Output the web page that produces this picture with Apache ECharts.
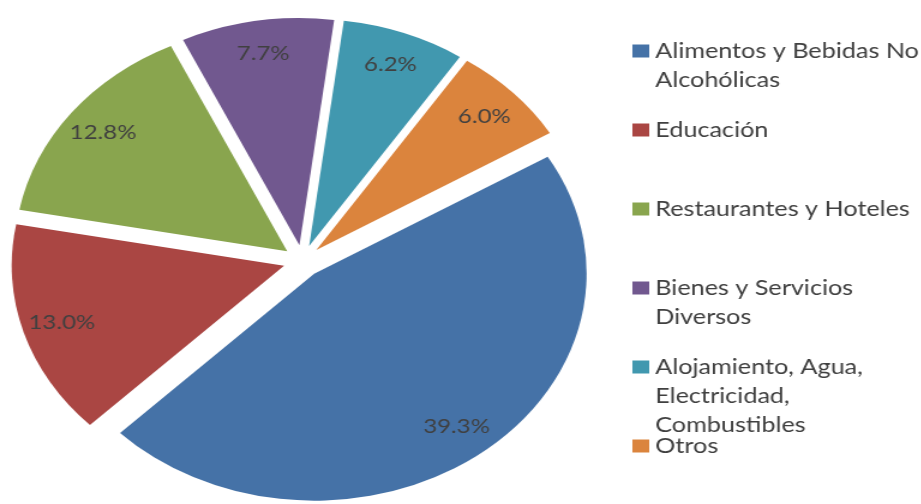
<!DOCTYPE html>
<html>
<head>
<meta charset="utf-8">
<script src="https://cdn.jsdelivr.net/npm/echarts@6/dist/echarts.min.js"></script>
<style>
  html, body { margin: 0; padding: 0; background: #ffffff; overflow: hidden; }
  #wrap { width: 921px; height: 504px; overflow: hidden; }
  /* the chart is laid out on a narrower canvas and widened horizontally */
  #chart { width: 768px; height: 504px; transform: scaleX(1.2); transform-origin: 0 0; }
</style>
</head>
<body>
<div id="wrap"><div id="chart"></div></div>
<script>
// Categories of household spending and their shares (%)
const categories = [
  'Alimentos y Bebidas No\nAlcohólicas',
  'Educación',
  'Restaurantes y Hoteles',
  'Bienes y Servicios\nDiversos',
  'Alojamiento, Agua,\nElectricidad,\nCombustibles',
  'Otros'
];
const shares = [39.3, 13.0, 12.8, 7.7, 6.2, 6.0];
const colors = ['#4572A7', '#AA4643', '#89A54E', '#71588F', '#4198AF', '#DB843D'];

const FONT = 'Lato';
const TEXT_COLOR = '#404040';

// pie geometry
const pieCenter = [252, 261];
const pieRadius = 227;
const explode = 16;
const startAngle = 31;

// legend geometry: rows evenly spaced, icon level with the first text line
const lineH = 29;
const maxLines = 3;
const blockLines = 2 * maxLines - 1;
const rowStep = 79;
const firstRowCenter = 51;

const chart = echarts.init(document.getElementById('chart'), null, { renderer: 'canvas' });

const pieData = categories.map((name, i) => ({
  name: name,
  value: shares[i],
  selected: true,
  itemStyle: { color: colors[i] }
}));

const labelData = categories.map((name, i) => ({
  name: name,
  value: shares[i],
  selected: true
}));

// every legend entry becomes a block of the same number of lines, with the
// real text starting on the middle line so it sits level with the icon
function legendText(name) {
  const lines = name.split('\n');
  const before = maxLines - 1;
  const after = blockLines - before - lines.length;
  const out = [];
  for (let k = 0; k < before; k++) out.push('{s| }');
  lines.forEach(l => out.push('{t|' + l + '}'));
  for (let k = 0; k < after; k++) out.push('{s| }');
  return out.join('\n');
}

chart.setOption({
  animation: false,
  backgroundColor: '#ffffff',
  legend: {
    orient: 'vertical',
    left: 527,
    top: firstRowCenter - blockLines * lineH / 2,
    height: 900,
    padding: 0,
    itemGap: rowStep - blockLines * lineH,
    itemWidth: 14,
    itemHeight: 13,
    icon: 'rect',
    selectedMode: false,
    data: categories,
    formatter: legendText,
    textStyle: {
      color: TEXT_COLOR,
      rich: {
        t: { fontFamily: FONT, fontSize: 21, lineHeight: lineH, height: lineH, color: TEXT_COLOR },
        s: { fontFamily: FONT, fontSize: 21, lineHeight: lineH, height: lineH, color: 'rgba(0,0,0,0)' }
      }
    }
  },
  series: [
    {
      type: 'pie',
      center: pieCenter,
      radius: pieRadius,
      startAngle: startAngle,
      clockwise: true,
      selectedMode: 'multiple',
      selectedOffset: explode,
      avoidLabelOverlap: false,
      silent: true,
      emphasis: { disabled: true },
      itemStyle: { borderWidth: 0 },
      label: { show: false },
      labelLine: { show: false },
      data: pieData
    },
    {
      // transparent ring carrying the value labels near the rim
      type: 'pie',
      center: pieCenter,
      radius: [pieRadius * 0.68, pieRadius],
      startAngle: startAngle,
      clockwise: true,
      selectedMode: 'multiple',
      selectedOffset: explode,
      avoidLabelOverlap: false,
      silent: true,
      emphasis: { disabled: true },
      itemStyle: { color: 'rgba(0,0,0,0)', borderWidth: 0 },
      label: {
        show: true,
        position: 'inside',
        formatter: p => p.value.toFixed(1) + '%',
        color: TEXT_COLOR,
        fontFamily: FONT,
        fontSize: 20
      },
      labelLine: { show: false },
      data: labelData
    }
  ]
});
</script>
</body>
</html>
